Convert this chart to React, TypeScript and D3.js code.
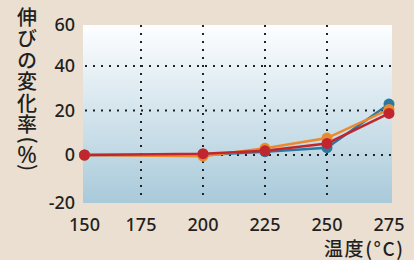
import React, { useEffect, useRef } from "react";
import * as d3 from "d3";

// temperature (°C) vs change in elongation (%)
const TEMPS = [150, 200, 225, 250, 275];
const BLUE = [0, 0, 1.5, 3.3, 22.9];
const ORANGE = [0, -0.5, 3, 7.6, 20.5];
const RED = [0, 0.6, 1.9, 5.2, 18.7];

const X_TICKS = [150, 175, 200, 225, 250, 275];
const Y_TICKS = [-20, 0, 20, 40, 60];
const GRID_X = [175, 200, 225, 250];
const GRID_Y = [0, 20, 40];

const SERIES = [
  { name: "blue", values: BLUE, color: "#2b79a0" },
  { name: "orange", values: ORANGE, color: "#e98a2e" },
  { name: "red", values: RED, color: "#c1262e" },
];

export default function App() {
  const svgRef = useRef<SVGSVGElement>(null);

  useEffect(() => {
    const width = 414;
    const height = 260;
    const plot = { left: 83, right: 392, top: 25, bottom: 203 };
    const textColor = "#231f20";
    const font = "'Noto Sans', 'Noto Sans CJK JP', sans-serif";
    const jpFont = "'Noto Sans CJK JP', sans-serif";

    const svg = d3.select(svgRef.current)
      .attr("width", width)
      .attr("height", height)
      .attr("viewBox", `0 0 ${width} ${height}`);
    svg.selectAll("*").remove();

    // the original axis is a little uneven, piecewise scales follow it
    const x = d3.scaleLinear()
      .domain([150, 175, 275])
      .range([84.5, 141, 389]);
    const y = d3.scaleLinear()
      .domain([-20, 0, 40, 60])
      .range([203, 155, 66, 25]);

    svg.append("rect")
      .attr("width", width).attr("height", height)
      .attr("fill", "#ebdfd2");

    const defs = svg.append("defs");
    const grad = defs.append("linearGradient")
      .attr("id", "bg").attr("x1", 0).attr("x2", 0).attr("y1", 0).attr("y2", 1);
    grad.append("stop").attr("offset", "0%").attr("stop-color", "#fdfeff");
    grad.append("stop").attr("offset", "100%").attr("stop-color", "#a9cada");

    svg.append("rect")
      .attr("x", plot.left).attr("y", plot.top)
      .attr("width", plot.right - plot.left)
      .attr("height", plot.bottom - plot.top)
      .attr("fill", "url(#bg)");

    // dotted grid
    svg.selectAll(".grid-x")
      .data(GRID_X)
      .join("line")
      .attr("x1", d => x(d)).attr("x2", d => x(d))
      .attr("y1", plot.top).attr("y2", plot.bottom - 2)
      .attr("stroke", "#222").attr("stroke-width", 2)
      .attr("stroke-dasharray", "2,6");

    svg.selectAll(".grid-y")
      .data(GRID_Y)
      .join("line")
      .attr("x1", plot.left + 2).attr("x2", plot.right)
      .attr("y1", d => y(d)).attr("y2", d => y(d))
      .attr("stroke", "#222").attr("stroke-width", 2)
      .attr("stroke-dasharray", "2,6");

    // tick labels
    svg.selectAll(".ytick")
      .data(Y_TICKS)
      .join("text")
      .attr("x", 75).attr("y", d => y(d))
      .attr("dy", "0.36em")
      .attr("text-anchor", "end")
      .attr("fill", textColor)
      .style("font-family", font).style("font-size", "18px").style("font-weight", 500)
      .text(d => d);

    svg.selectAll(".xtick")
      .data(X_TICKS)
      .join("text")
      .attr("x", d => x(d)).attr("y", 231)
      .attr("text-anchor", "middle")
      .attr("fill", textColor)
      .style("font-family", font).style("font-size", "18px").style("font-weight", 500)
      .text(d => d);

    // axis titles
    svg.append("text")
      .attr("x", 324).attr("y", 256)
      .attr("textLength", 79).attr("lengthAdjust", "spacing")
      .attr("fill", textColor)
      .style("font-family", jpFont).style("font-size", "19px").style("font-weight", 500)
      .text("温度(°C)");

    const yTitle = svg.append("g").attr("fill", textColor)
      .style("font-family", jpFont).style("font-weight", 500);
    yTitle.append("text")
      .attr("x", 27).attr("y", 7)
      .style("writing-mode", "vertical-rl")
      .style("font-size", "20px")
      .style("letter-spacing", "1.5px")
      .text("伸びの変化率");
    // brackets turned sideways, percent sign upright
    yTitle.append("text")
      .attr("transform", "translate(27,140) rotate(90)")
      .attr("text-anchor", "middle").attr("dy", "0.32em")
      .style("font-size", "20px")
      .text("(");
    yTitle.append("text")
      .attr("x", 27).attr("y", 163)
      .attr("text-anchor", "middle")
      .style("font-family", font).style("font-size", "24px").style("font-weight", 400)
      .text("%");
    yTitle.append("text")
      .attr("transform", "translate(27,167.5) rotate(90)")
      .attr("text-anchor", "middle").attr("dy", "0.32em")
      .style("font-size", "20px")
      .text(")");

    // lines and points
    const line = d3.line<number>()
      .x((d, i) => x(TEMPS[i]))
      .y(d => y(d));

    SERIES.forEach(s => {
      svg.append("path")
        .datum(s.values)
        .attr("d", line)
        .attr("fill", "none")
        .attr("stroke", s.color)
        .attr("stroke-width", 2.5);
    });

    SERIES.forEach(s => {
      svg.selectAll(`.pt-${s.name}`)
        .data(s.values)
        .join("circle")
        .attr("cx", (d, i) => x(TEMPS[i]))
        .attr("cy", d => y(d))
        .attr("r", 5.5)
        .attr("fill", s.color);
    });
  }, []);

  return (
    <div style={{ position: "fixed", left: 0, top: 0 }}>
      <svg ref={svgRef} style={{ display: "block" }} />
    </div>
  );
}
